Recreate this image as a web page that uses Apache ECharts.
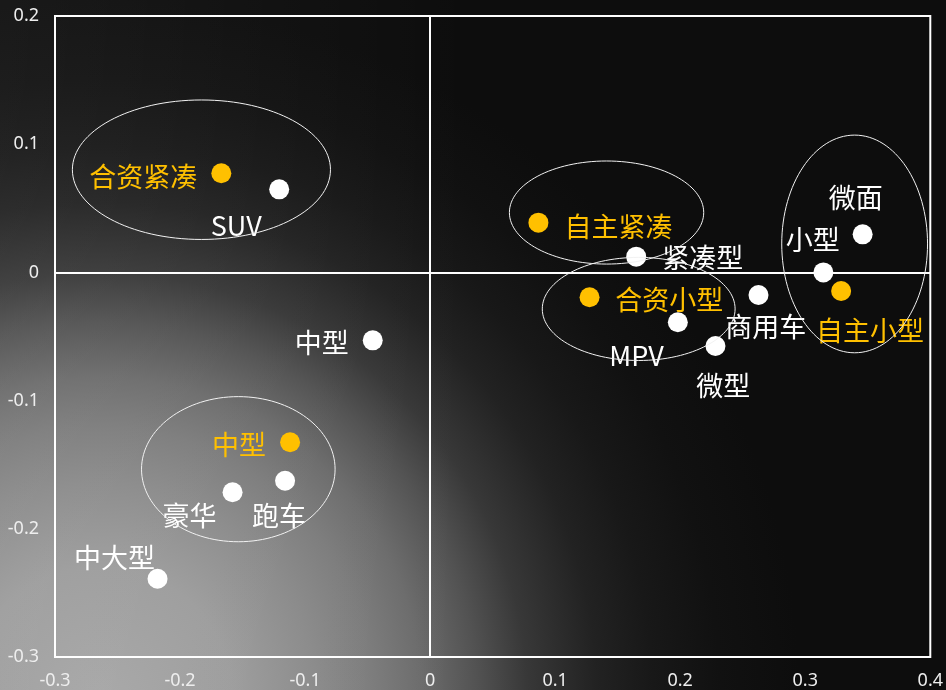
<!DOCTYPE html>
<html>
<head>
<meta charset="utf-8">
<script src="https://cdn.jsdelivr.net/npm/echarts@6/dist/echarts.min.js"></script>
<style>
html,body{margin:0;padding:0;background:#0d0d0d;}
#chart{width:946px;height:690px;}
</style>
</head>
<body>
<div id="chart"></div>
<script>
// ---- data ----
const xTicks = [-0.3, 0.4, 0.1];   // min, max, step
const yTicks = [-0.3, 0.2, 0.1];

const whiteNames = ['SUV', '中型', '豪华', '跑车', '中大型', '紧凑型', 'MPV', '微型', '商用车', '小型', '微面'];
const whiteX = [-0.1207, -0.0459, -0.158, -0.116, -0.218, 0.1648, 0.1981, 0.2282, 0.2626, 0.3145, 0.3459];
const whiteY = [0.0648, -0.053, -0.1715, -0.1625, -0.239, 0.0123, -0.0389, -0.0574, -0.0176, 0.0, 0.0297];

const yellowNames = ['合资紧凑', '自主紧凑', '合资小型', '自主小型', '中型'];
const yellowX = [-0.167, 0.0866, 0.1275, 0.3287, -0.112];
const yellowY = [0.0773, 0.0388, -0.0194, -0.0145, -0.1325];

const ellipseCX = [-0.1829, 0.1411, 0.1668, 0.3395, -0.1534];
const ellipseCY = [0.0801, 0.0467, -0.0285, 0.0222, -0.1535];
const ellipseRX = [0.1032, 0.0777, 0.0771, 0.0583, 0.0774];
const ellipseRY = [0.0544, 0.0402, 0.0402, 0.0849, 0.0566];

// ---- label placement (style) ----
const whiteLabelOffset = [[-43, 36], [-51, 2.5], [-43, 23.5], [-6, 35], [-43, -21.5], [66.6, 1.6], [-41.3, 33.5], [7.7, 39.5], [7.3, 31.3], [-10.7, -32.7], [-6.8, -36.5]];
const yellowLabelOffset = [[-78, 3], [80, 3.6], [79.7, 2.5], [28.8, 40.2], [-51, 2]];

const WHITE = '#ffffff';
const GOLD = '#ffc000';
const CJK = '"Noto Sans CJK SC", "Noto Sans", sans-serif';

function pts(names, xs, ys, offsets) {
  return names.map((n, i) => ({
    name: n,
    value: [xs[i], ys[i]],
    label: { offset: offsets[i] }
  }));
}

const chart = echarts.init(document.getElementById('chart'), null, { renderer: 'canvas' });

const option = {
  animation: false,
  backgroundColor: {
    type: 'radial',
    x: 100 / 946, y: 700 / 690, r: 700 / 690,
    colorStops: [
      { offset: 0, color: '#a6a6a6' },
      { offset: 0.19, color: '#9c9c9c' },
      { offset: 0.31, color: '#8a8a8a' },
      { offset: 0.39, color: '#7c7c7c' },
      { offset: 0.46, color: '#6c6c6c' },
      { offset: 0.54, color: '#525252' },
      { offset: 0.61, color: '#383838' },
      { offset: 0.71, color: '#222222' },
      { offset: 0.79, color: '#181818' },
      { offset: 0.886, color: '#111111' },
      { offset: 1, color: '#0d0d0d' }
    ]
  },
  graphic: [{
    type: 'rect',
    silent: true,
    z: -10,
    shape: { x: 0, y: 0, width: 946, height: 690 },
    style: {
      fill: {
        type: 'linear', x: 0, y: 0, x2: 0.5, y2: 0,
        colorStops: [
          { offset: 0, color: 'rgba(255,255,255,0.05)' },
          { offset: 1, color: 'rgba(255,255,255,0)' }
        ]
      }
    }
  }],
  grid: {
    left: 55, right: 15, top: 16, bottom: 33,
    show: true, borderColor: '#ffffff', borderWidth: 2,
    backgroundColor: 'transparent'
  },
  xAxis: {
    type: 'value', min: xTicks[0], max: xTicks[1], interval: xTicks[2],
    axisLine: { show: false, onZero: false },
    axisTick: { show: false },
    splitLine: { show: false },
    axisLabel: {
      color: '#eeeeee', fontSize: 18, margin: 15, fontFamily: '"Noto Sans", sans-serif',
      formatter: v => String(+v.toFixed(1))
    }
  },
  yAxis: {
    type: 'value', min: yTicks[0], max: yTicks[1], interval: yTicks[2],
    axisLine: { show: false, onZero: false },
    axisTick: { show: false },
    splitLine: { show: false },
    axisLabel: {
      color: '#eeeeee', fontSize: 18, margin: 16, fontFamily: '"Noto Sans", sans-serif',
      formatter: v => String(+v.toFixed(1))
    }
  },
  series: [
    {
      type: 'scatter',
      name: 'white',
      z: 2,
      symbol: 'circle',
      symbolSize: 20,
      itemStyle: { color: WHITE, opacity: 1 },
      label: {
        show: true, position: 'inside', formatter: '{b}',
        color: WHITE, fontSize: 27, fontFamily: CJK,
        align: 'center', verticalAlign: 'middle'
      },
      data: pts(whiteNames, whiteX, whiteY, whiteLabelOffset),
      markLine: {
        silent: true,
        symbol: 'none',
        label: { show: false },
        lineStyle: { color: '#ffffff', width: 2, type: 'solid' },
        emphasis: { disabled: true },
        data: [{ xAxis: 0 }, { yAxis: 0 }]
      }
    },
    {
      type: 'scatter',
      name: 'gold',
      z: 2,
      symbol: 'circle',
      symbolSize: 20,
      itemStyle: { color: GOLD, opacity: 1 },
      label: {
        show: true, position: 'inside', formatter: '{b}',
        color: GOLD, fontSize: 27, fontFamily: CJK,
        align: 'center', verticalAlign: 'middle'
      },
      data: pts(yellowNames, yellowX, yellowY, yellowLabelOffset)
    },
    {
      type: 'custom',
      name: 'ellipse',
      z: 5,
      silent: true,
      renderItem: function (params, api) {
        const c = api.coord([api.value(0), api.value(1)]);
        const s = api.size([api.value(2), api.value(3)]);
        return {
          type: 'ellipse',
          shape: { cx: c[0], cy: c[1], rx: s[0], ry: s[1] },
          style: { fill: 'none', stroke: '#f2f2f2', lineWidth: 1 }
        };
      },
      data: ellipseCX.map((cx, i) => [cx, ellipseCY[i], ellipseRX[i], ellipseRY[i]])
    }
  ]
};
chart.setOption(option);
</script>
</body>
</html>
